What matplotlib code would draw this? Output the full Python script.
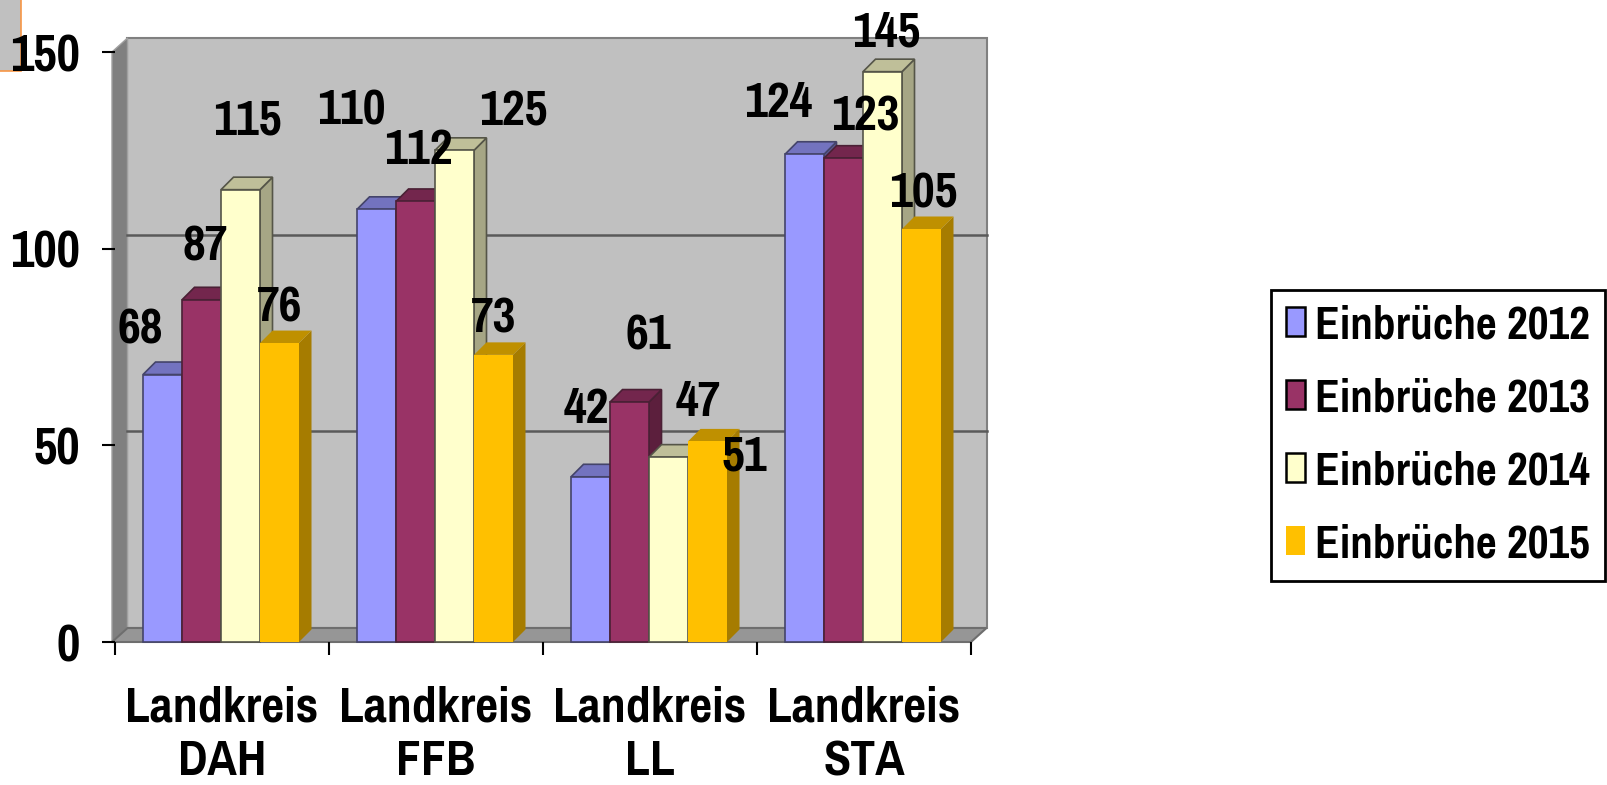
import matplotlib
matplotlib.use('Agg')
import numpy as np
import matplotlib.pyplot as plt
from matplotlib.patches import Rectangle, Patch

font_list = ['Pragati Narrow', 'Liberation Sans', 'DejaVu Sans']
plt.rcParams['font.family'] = font_list
plt.rcParams['font.weight'] = 'bold'

categories = ['Landkreis\nDAH', 'Landkreis\nFFB', 'Landkreis\nLL', 'Landkreis\nSTA']
einbrueche_2012 = [68, 110, 42, 124]
einbrueche_2013 = [87, 112, 61, 123]
einbrueche_2014 = [115, 125, 47, 145]
einbrueche_2015 = [76, 73, 51, 105]
series_names = ['Einbrüche 2012', 'Einbrüche 2013', 'Einbrüche 2014', 'Einbrüche 2015']
y_ticks = [0, 50, 100, 150]

series = [einbrueche_2012, einbrueche_2013, einbrueche_2014, einbrueche_2015]
front_colors = ['#9999FF', '#993366', '#FFFFCC', '#FFC000']
top_colors = ['#7373BF', '#73264D', '#BFBF99', '#BF9000']
side_colors = ['#5C5C99', '#5C1F3D', '#A6A685', '#A67C00']
edge_colors = ['#44446A', '#4A2035', '#555548', 'none']

# value label shifts in pixels from the top centre of each bar, per series
label_dx = [[-22, -25, -4, -26], [4, 3, 19, 22], [7, 59, 30, 4], [0, 0, 37, 2]]
label_dy = [[49, 103, 72, 55], [57, 55, 71, 46], [73, 43, 59, 43], [40, 40, -11, 40]]

W, H = 1608, 785
fig = plt.figure(figsize=(W / 100, H / 100), dpi=100)
ax = fig.add_axes([115 / W, 1 - 642 / H, 856 / W, 590 / H])
ax.set_zorder(1)
ax.set_xlim(0, 4)
ax.set_ylim(0, 150)
ax.patch.set_visible(False)
for s in ax.spines.values():
    s.set_visible(False)

# pixel sizes expressed in data units
px = 4 / 856
py = 150 / 590
wall_dx, wall_dy = 15.5 * px, 14 * py
bar_dx, bar_dy = 12.5 * px, 12.5 * py
left = -3 * px

# back wall, side wall and floor
ax.fill([left + wall_dx, 4 + wall_dx, 4 + wall_dx, left + wall_dx],
        [wall_dy, wall_dy, 150 + wall_dy, 150 + wall_dy],
        fc='#C0C0C0', ec='#808080', lw=1.5, clip_on=False, zorder=1)
ax.fill([left, left + wall_dx, left + wall_dx, left],
        [0, wall_dy, 150 + wall_dy, 150],
        fc='#808080', ec='#A0A0A0', lw=1, clip_on=False, zorder=1)
ax.fill([left, 4, 4 + wall_dx, left + wall_dx],
        [0, 0, wall_dy, wall_dy],
        fc='#969696', ec='#6E6E6E', lw=1.5, clip_on=False, zorder=1)
for v in y_ticks[1:3]:
    ax.plot([left + wall_dx, 4 + wall_dx], [v + wall_dy, v + wall_dy], color='#5A5A5A', lw=1.8, zorder=2, clip_on=False)

# bars with their side and top faces
bar_w = 39 * px
start = 28 * px
for j, values in enumerate(series):
    x = np.arange(4) + start + j * bar_w
    for i, v in enumerate(values):
        z = 3 + i * 4 + j * 0.1
        ax.fill([x[i] + bar_w, x[i] + bar_w + bar_dx, x[i] + bar_w + bar_dx, x[i] + bar_w],
                [0, bar_dy, v + bar_dy, v], fc=side_colors[j], ec=edge_colors[j], lw=1.2, clip_on=False, zorder=z)
        ax.fill([x[i], x[i] + bar_dx, x[i] + bar_w + bar_dx, x[i] + bar_w],
                [v, v + bar_dy, v + bar_dy, v], fc=top_colors[j], ec=edge_colors[j], lw=1.2, clip_on=False, zorder=z)
        ax.bar(x[i], v, bar_w, align='edge', color=front_colors[j], edgecolor=edge_colors[j], lw=1.2, clip_on=False, zorder=z + 0.01)
        ax.annotate(str(v), (x[i] + bar_w / 2, v), xytext=(label_dx[j][i], label_dy[j][i]),
                    textcoords='offset pixels', ha='center', va='center_baseline',
                    fontsize=39, fontweight='bold', color='black', zorder=50, annotation_clip=False)

# axes ticks
ax.set_xticks(range(5), [''] * 5)
ax.set_xticks(np.arange(4) + 0.5, categories, minor=True)
ax.tick_params(axis='x', which='major', length=9.5, width=1.5, color='black', direction='out')
ax.tick_params(axis='x', which='minor', length=0, pad=31, labelsize=39)
ax.set_yticks(y_ticks)
ax.tick_params(axis='y', length=9.5, width=1.5, color='black', direction='out', pad=16, labelsize=40)
for lab in ax.get_xticklabels(minor=True):
    lab.set_linespacing(1.25)
    lab.set_fontweight('bold')
for lab in ax.get_yticklabels():
    lab.set_fontweight('bold')

# small grey box in the corner, underneath the tick labels
fig.patches.append(Rectangle((-2 / W, 1 - 71 / H), 23.5 / W, 73 / H, transform=fig.transFigure,
                             fc='#C0C0C0', ec='#F79646', lw=1.2, zorder=0, figure=fig))

handles = [Patch(fc=front_colors[j], ec='black' if j < 3 else 'none', lw=1.8) for j in range(4)]
leg = fig.legend(handles, series_names, loc='upper left', bbox_to_anchor=(1271 / W, 1 - 290 / H),
                 bbox_transform=fig.transFigure, frameon=True, fancybox=False,
                 edgecolor='black', framealpha=1, borderaxespad=0, borderpad=0.3,
                 handlelength=0.39, handleheight=0.53, handletextpad=0.21, labelspacing=0.63,
                 prop={'family': font_list, 'weight': 'bold', 'size': 35.5})
leg.get_frame().set_linewidth(2)

fig.savefig('out.png', dpi=100)
